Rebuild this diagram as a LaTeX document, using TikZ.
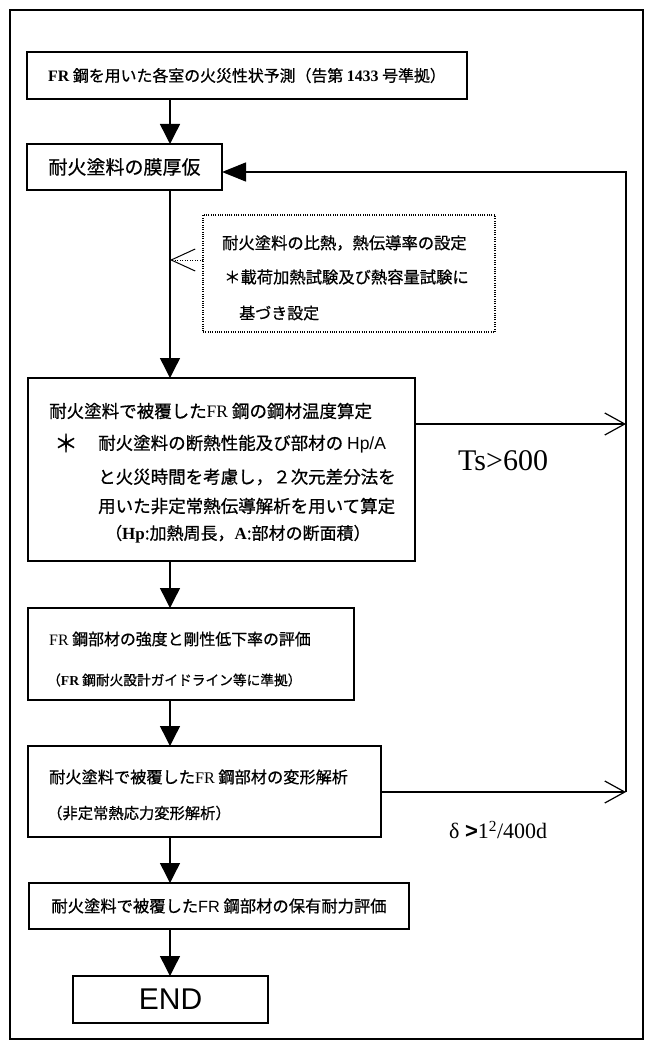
\documentclass[tikz,border=0pt]{standalone}
\usepackage{fontspec}
\setmainfont{Liberation Serif}
\newfontfamily\jp[FakeBold=0.7]{Noto Sans CJK JP}
\newfontfamily\sansf{Liberation Sans}
\usetikzlibrary{arrows.meta}
\newcommand{\fs}[1]{\fontsize{#1}{#1}\selectfont}
\tikzset{
  box/.style={draw, line width=1.4pt, inner sep=0pt, outer sep=0pt, anchor=north west},
  dotbox/.style={draw, line width=1.3pt, dash pattern=on 1pt off 1.3pt, inner sep=0pt, outer sep=0pt, anchor=north west},
  txt/.style={inner sep=0pt, anchor=west},
  fl/.style={line width=1.4pt, -{Triangle[length=20pt,width=20pt]}},
  openarr/.style={line width=1.2pt, -{Straight Barb[length=20pt,width=22pt]}},
  dotarr/.style={line width=1pt, dash pattern=on 1pt off 1.5pt, -{Straight Barb[length=24pt,width=22pt]}},
}
\begin{document}
\begin{tikzpicture}[x=1pt,y=-1pt]
\useasboundingbox (0,0) rectangle (646,1043);
\draw[line width=1.3pt] (10,10) rectangle (643,1039);

% boxes
\node[box, minimum width=440pt, minimum height=47pt, font=\jp\fs{15.9}] (b1) at (27,52)
  {{\rmfamily\bfseries FR} 鋼を用いた各室の火災性状予測（告第 {\rmfamily\bfseries 1433} 号準拠）};
\node[box, minimum width=195pt, minimum height=46pt, font=\jp\fs{19}] (b2) at (27,144) {耐火塗料の膜厚仮};
\node[dotbox, minimum width=292pt, minimum height=117pt] (db) at (203,215) {};
\node[box, minimum width=387pt, minimum height=183pt] (b3) at (28,378) {};
\node[box, minimum width=326pt, minimum height=92pt] (b4) at (28,608) {};
\node[box, minimum width=353pt, minimum height=91pt] (b5) at (28,746) {};
\node[box, minimum width=380pt, minimum height=46pt, font=\jp\fs{16.3}] (b6) at (29,883)
  {耐火塗料で被覆した{\sansf FR} 鋼部材の保有耐力評価};
\node[box, minimum width=195pt, minimum height=47pt, font=\sansf\fs{30}] (end) at (73,976) {END};

% dotted box texts
\node[txt, font=\jp\fs{16.3}] (d1) at (222,243) {耐火塗料の比熱，熱伝導率の設定};
\node[txt, font=\jp\fs{16.3}] (d2) at (224,277) {＊載荷加熱試験及び熱容量試験に};
\node[txt, font=\jp\fs{16}] (d3) at (239,313) {基づき設定};

% box 3 texts
\node[txt, font=\jp\fs{17.5}] (t31) at (49,411) {耐火塗料で被覆した{\rmfamily FR} 鋼の鋼材温度算定};
\node[inner sep=0pt, font=\jp\fs{24}] (ast) at (66,443) {＊};
\node[txt, font=\jp\fs{17.5}] (t32) at (98,444) {耐火塗料の断熱性能及び部材の {\sansf Hp/A}};
\node[txt, font=\jp\fs{17.5}] (t33) at (98,477) {と火災時間を考慮し，２次元差分法を};
\node[txt, font=\jp\fs{17.5}] (t34) at (98,506) {用いた非定常熱伝導解析を用いて算定};
\node[txt, font=\jp\fs{17}] (t35) at (105,534) {（{\rmfamily\bfseries Hp}:加熱周長，{\rmfamily\bfseries A}:部材の断面積）};

% box 4 texts
\node[txt, font=\jp\fs{15.9}] (t41) at (49,639) {{\rmfamily FR} 鋼部材の強度と剛性低下率の評価};
\node[txt, font=\jp\fs{13.7}] (t42) at (47,680) {（{\rmfamily\bfseries FR} 鋼耐火設計ガイドライン等に準拠）};

% box 5 texts
\node[txt, font=\jp\fs{16.2}] (t51) at (49,777) {耐火塗料で被覆した{\rmfamily FR} 鋼部材の変形解析};
\node[txt, font=\jp\fs{15.3}] (t52) at (47,813) {（非定常熱応力変形解析）};

% main flow
\coordinate (mx) at (170,0);
\draw[fl] (b1.south -| mx) -- (b2.north -| mx);
\draw[fl] (b2.south -| mx) -- (b3.north -| mx);
\draw[fl] (b3.south -| mx) -- (b4.north -| mx);
\draw[fl] (b4.south -| mx) -- (b5.north -| mx);
\draw[fl] (b5.south -| mx) -- (b6.north -| mx);
\draw[fl] (b6.south -| mx) -- (end.north -| mx);

% dotted input
\coordinate (dtip) at (170,260);
\draw[dotarr] (db.west |- dtip) -- (dtip);

% feedback loop
\coordinate (lt) at (626,172);
\coordinate (ts) at (626,424);
\coordinate (lb) at (626,792);
\draw[openarr] (b3.east |- ts) -- (ts);
\draw[openarr] (b5.east |- lb) -- (lb);
\draw[line width=1.4pt, -{Triangle[length=24pt,width=19pt]}] (lb) -- (lt) -- (lt -| b2.east);

\node[txt, font=\fs{30}] (tsl) at (458,461) {Ts>600};
\node[txt, font=\fs{22}] (dl) at (449,830) {δ {\sansf\bfseries >}1\textsuperscript{2}/400d};
\end{tikzpicture}
\end{document}
